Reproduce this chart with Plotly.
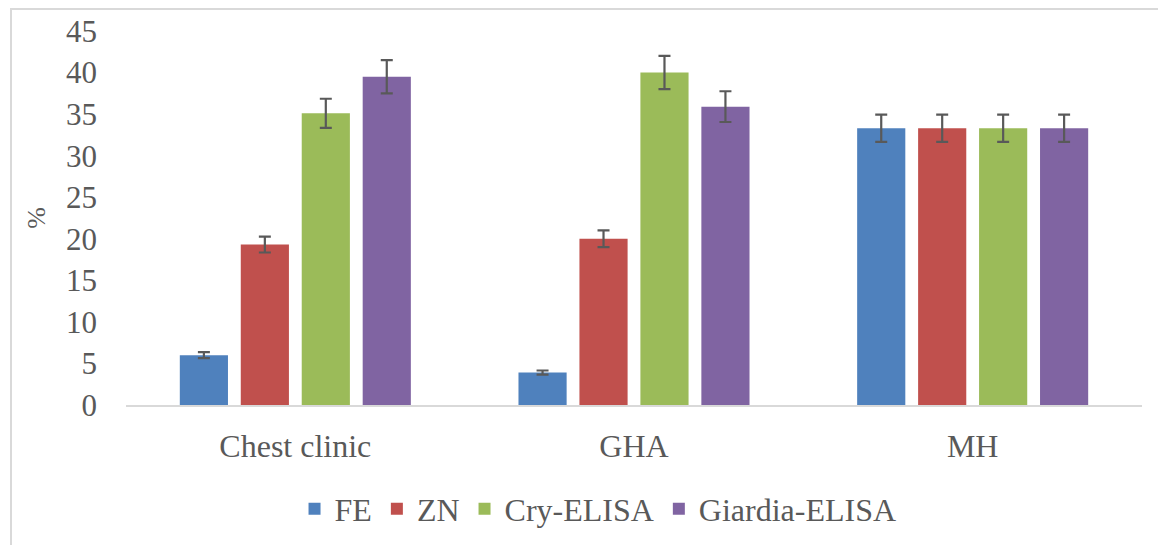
import plotly.graph_objects as go

categories = ["Chest clinic", "GHA", "MH"]
series_names = ["FE", "ZN", "Cry-ELISA", "Giardia-ELISA"]
fe = [6.0, 3.9, 33.3]
zn = [19.3, 20.0, 33.3]
cry = [35.1, 40.0, 33.3]
giardia = [39.5, 35.9, 33.3]
fe_err = [0.35, 0.25, 1.65]
zn_err = [0.95, 1.0, 1.65]
cry_err = [1.75, 2.0, 1.65]
giardia_err = [2.0, 1.85, 1.65]
colors = ["#4F81BD", "#C0504D", "#9BBB59", "#8064A2"]
y_ticks = [0, 5, 10, 15, 20, 25, 30, 35, 40, 45]

values = [fe, zn, cry, giardia]
errors = [fe_err, zn_err, cry_err, giardia_err]

FONT = "Liberation Serif"
GREY = "#595959"

fig = go.Figure()
for name, vals, errs, col in zip(series_names, values, errors, colors):
    fig.add_trace(go.Bar(
        x=categories, y=vals, name=name,
        marker=dict(color=col, line=dict(width=0)),
        error_y=dict(type="data", array=errs, visible=True,
                     color=GREY, thickness=2.2, width=6),
    ))

fig.update_layout(
    width=1158, height=537,
    margin=dict(l=118, r=24, t=23, b=140, autoexpand=False),
    paper_bgcolor="white", plot_bgcolor="white",
    barmode="group", bargap=0.28, bargroupgap=0.21,
    font=dict(family=FONT, size=31, color=GREY),
    showlegend=True,
    legend=dict(orientation="h", x=0.4646, xanchor="center",
                y=-0.278, yanchor="middle",
                font=dict(family=FONT, size=32, color=GREY),
                itemwidth=30, traceorder="normal"),
    xaxis=dict(showline=True, linecolor="#D9D9D9", linewidth=2,
               showgrid=False, ticks="", ticklabelstandoff=12,
               tickfont=dict(family=FONT, size=32, color=GREY)),
    yaxis=dict(range=[0, 45], tickvals=y_ticks, showgrid=False,
               zeroline=False, showline=False, ticks="",
               ticklabelstandoff=28,
               tickfont=dict(family=FONT, size=31, color=GREY),
               title=dict(text="%", standoff=12,
                          font=dict(family=FONT, size=26, color=GREY))),
    shapes=[dict(type="rect", xref="paper", yref="paper",
                 x0=-0.1132, x1=1.05, y0=-0.45, y1=1.0588,
                 line=dict(color="#D9D9D9", width=2), layer="below")],
)

fig.write_html("out.html")
